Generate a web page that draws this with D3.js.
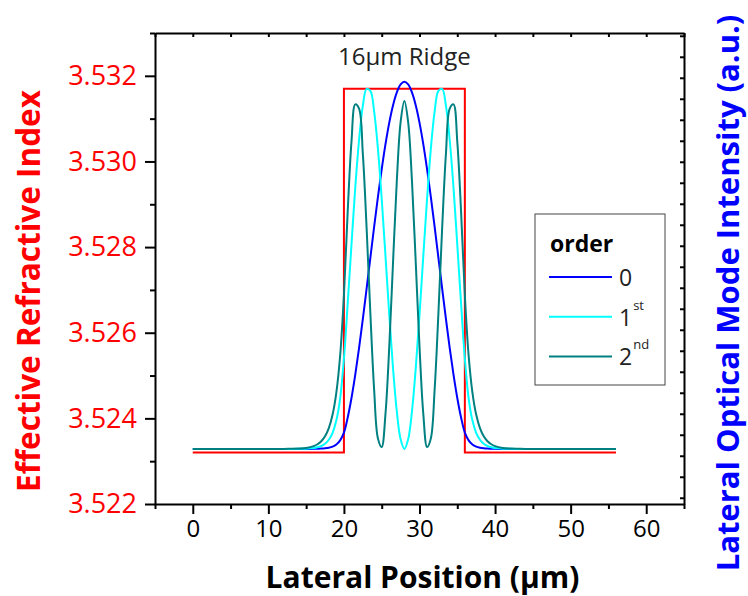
<!DOCTYPE html>
<meta charset="utf-8">
<style>
body { margin: 0; background: #fff; }
svg { display: block; font-family: "Open Sans", sans-serif; }
.axis path, .axis line { stroke: #000; stroke-width: 2px; fill: none; }
.mode { fill: none; stroke-width: 2px; }
</style>
<body>
<script src="https://d3js.org/d3.v7.min.js"></script>
<script>

// lateral position grid (µm)
var positions = [0, 5, 10, 12, 13, 14, 15, 16, 16.5, 17, 17.5, 18, 18.5, 19, 19.5,
  20, 20.5, 21, 21.5, 22, 22.5, 23, 23.5, 24, 24.5, 25, 25.5, 26, 26.5, 27, 27.5, 28,
  28.5, 29, 29.5, 30, 30.5, 31, 31.5, 32, 32.5, 33, 33.5, 34, 34.5, 35, 35.5, 36,
  36.5, 37, 37.5, 38, 38.5, 39, 39.5, 40, 41, 42, 43, 44, 46, 51, 56];

// mode intensities (a.u.)
var mode0 = [0, 0, 0, 0, 0, 0, 0.0001, 0.0002, 0.0005, 0.0009, 0.0017, 0.0033, 0.0063, 0.0121, 0.0232,
  0.0444, 0.0857, 0.1388, 0.2024, 0.2747, 0.3534, 0.4365, 0.5213, 0.6055, 0.6865, 0.7622, 0.8304, 0.8890, 0.9365, 0.9714, 0.9928, 1.0,
  0.9928, 0.9714, 0.9365, 0.8890, 0.8304, 0.7622, 0.6865, 0.6055, 0.5213, 0.4365, 0.3534, 0.2747, 0.2024, 0.1388, 0.0857, 0.0444,
  0.0232, 0.0121, 0.0063, 0.0033, 0.0017, 0.0009, 0.0005, 0.0002, 0.0001, 0, 0, 0, 0, 0, 0];

var mode1 = [0, 0, 0, 0, 0.0001, 0.0003, 0.0008, 0.0025, 0.0044, 0.008, 0.014, 0.025, 0.044, 0.078, 0.138,
  0.246, 0.3965, 0.5567, 0.7120, 0.8408, 0.9343, 0.9808, 0.9756, 0.9190, 0.8173, 0.6810, 0.5248, 0.3651, 0.2189, 0.1018, 0.0261, 0,
  0.0261, 0.1018, 0.2189, 0.3651, 0.5248, 0.6810, 0.8173, 0.9190, 0.9756, 0.9808, 0.9343, 0.8408, 0.7120, 0.5567, 0.3965, 0.246,
  0.138, 0.078, 0.044, 0.025, 0.014, 0.008, 0.0044, 0.0025, 0.0008, 0.0003, 0.0001, 0, 0, 0, 0];

var mode2 = [0, 0, 0, 0.0001, 0.0004, 0.0010, 0.0028, 0.0077, 0.0127, 0.0209, 0.0344, 0.0568, 0.0936, 0.1543, 0.2544,
  0.4195, 0.6471, 0.8371, 0.9385, 0.9269, 0.8047, 0.6023, 0.3685, 0.1606, 0.0286, 0.0053, 0.0963, 0.2790, 0.5094, 0.7311, 0.8904, 0.948,
  0.8904, 0.7311, 0.5094, 0.2790, 0.0963, 0.0053, 0.0286, 0.1606, 0.3685, 0.6023, 0.8047, 0.9269, 0.9385, 0.8371, 0.6471, 0.4195,
  0.2544, 0.1543, 0.0936, 0.0568, 0.0344, 0.0209, 0.0127, 0.0077, 0.0028, 0.0010, 0.0004, 0.0001, 0, 0, 0];

// effective refractive index step profile
var ridgeX = [0, 20, 20, 36, 36, 56];
var ridgeN = [3.5232, 3.5232, 3.5317, 3.5317, 3.5232, 3.5232];

var xTicks = [0, 10, 20, 30, 40, 50, 60];
var nTicks = [3.522, 3.524, 3.526, 3.528, 3.530, 3.532];
var legendKeys = ["0", "1", "2"];
var legendSups = ["", "st", "nd"];
var modeColors = ["#0000ff", "#00ffff", "#008080"];

var W = 748, H = 596;
var margin = {top: 33, right: 64, bottom: 92, left: 155},
    width = W - margin.left - margin.right,
    height = H - margin.top - margin.bottom;

var x = d3.scaleLinear().domain([-5, 65]).range([0, width]);
var yN = d3.scaleLinear().domain([3.522, 3.533]).range([height, 0]);
var yI = d3.scaleLinear().domain([-0.15, 1.133]).range([height, 0]);

var svg = d3.select("body").append("svg")
    .attr("width", W)
    .attr("height", H)
  .append("g")
    .attr("transform", "translate(" + margin.left + "," + margin.top + ")");

// refractive index step
var stepLine = d3.line()
    .x(function(d, i) { return x(ridgeX[i]); })
    .y(function(d) { return yN(d); });

svg.append("path")
    .datum(ridgeN)
    .attr("class", "mode")
    .attr("stroke", "#ff0000")
    .attr("d", stepLine);

// mode profiles
var modeLine = d3.line()
    .x(function(d, i) { return x(positions[i]); })
    .y(function(d) { return yI(d); })
    .curve(d3.curveCatmullRom);

[mode0, mode1, mode2].forEach(function(m, k) {
  svg.append("path")
      .datum(m)
      .attr("class", "mode")
      .attr("stroke", modeColors[k])
      .attr("d", modeLine);
});

// bottom axis: major + minor
svg.append("g")
    .attr("class", "axis")
    .attr("transform", "translate(0," + height + ")")
    .call(d3.axisBottom(x).tickValues(d3.range(-5, 66, 10)).tickSize(5).tickFormat(""))
    .call(function(g) { g.select(".domain").remove(); });

svg.append("g")
    .attr("class", "axis")
    .attr("transform", "translate(0," + height + ")")
    .call(d3.axisBottom(x).tickValues(xTicks).tickSize(10).tickPadding(6).tickSizeOuter(0))
    .call(function(g) {
      g.selectAll("text").attr("font-size", 24).attr("fill", "#000").attr("font-family", "Open Sans");
    });

// top axis ticks inward
svg.append("g")
    .attr("class", "axis")
    .call(d3.axisTop(x).tickValues(d3.range(-5, 66, 5)).tickSize(-4).tickFormat("").tickSizeOuter(0));

// left axis
svg.append("g")
    .attr("class", "axis")
    .call(d3.axisLeft(yN).tickValues(d3.range(3.523, 3.5335, 0.002)).tickSize(5).tickFormat(""))
    .call(function(g) { g.select(".domain").remove(); });

svg.append("g")
    .attr("class", "axis")
    .call(d3.axisLeft(yN).tickValues(nTicks).tickSize(10).tickPadding(8).tickSizeOuter(0).tickFormat(d3.format(".3f")))
    .call(function(g) {
      g.selectAll("text").attr("font-size", 27).attr("fill", "#ff0000").attr("font-family", "Open Sans");
    });

// right axis, unlabeled, inward ticks
svg.append("g")
    .attr("class", "axis")
    .attr("transform", "translate(" + width + ",0)")
    .call(d3.axisRight(yI).tickValues(d3.range(-0.133, 1.13, 0.0572)).tickSize(-4).tickFormat("").tickSizeOuter(0));

// axis titles
svg.append("text")
    .attr("x", width / 2 + 3)
    .attr("y", height + 84)
    .attr("text-anchor", "middle")
    .attr("font-size", 30)
    .attr("font-weight", "bold")
    .text("Lateral Position (µm)");

svg.append("text")
    .attr("transform", "translate(" + (40 - margin.left) + "," + (291 - margin.top) + ") rotate(-90)")
    .attr("text-anchor", "middle")
    .attr("font-size", 31.5)
    .attr("font-weight", "bold")
    .attr("fill", "#ff0000")
    .text("Effective Refractive Index");

svg.append("text")
    .attr("transform", "translate(" + (739 - margin.left) + "," + (293 - margin.top) + ") rotate(-90)")
    .attr("text-anchor", "middle")
    .attr("font-size", 31)
    .attr("font-weight", "bold")
    .attr("fill", "#0000ff")
    .text("Lateral Optical Mode Intensity (a.u.)");

svg.append("text")
    .attr("x", x(28))
    .attr("y", 32)
    .attr("text-anchor", "middle")
    .attr("font-size", 24)
    .attr("fill", "#222")
    .text("16µm Ridge");

// legend
var lg = svg.append("g").attr("transform", "translate(" + (535 - margin.left) + "," + (214 - margin.top) + ")");
lg.append("rect")
    .attr("width", 130)
    .attr("height", 171)
    .attr("fill", "#fff")
    .attr("stroke", "#444")
    .attr("stroke-width", 1);
lg.append("text")
    .attr("x", 15)
    .attr("y", 38)
    .attr("font-size", 23)
    .attr("font-weight", "bold")
    .text("order");

var items = lg.selectAll(".item")
    .data(legendKeys)
    .enter().append("g")
    .attr("transform", function(d, i) { return "translate(0," + (63 + i * 39.7) + ")"; });
items.append("line")
    .attr("x1", 14).attr("x2", 77)
    .attr("stroke", function(d, i) { return modeColors[i]; })
    .attr("stroke-width", 2);
items.append("text")
    .attr("x", 84)
    .attr("y", 9)
    .attr("font-size", 23)
    .attr("fill", "#222")
    .text(function(d) { return d; })
  .append("tspan")
    .attr("dy", -16)
    .attr("dx", 1)
    .attr("font-size", 13)
    .text(function(d, i) { return legendSups[i]; });

</script>
</body>
